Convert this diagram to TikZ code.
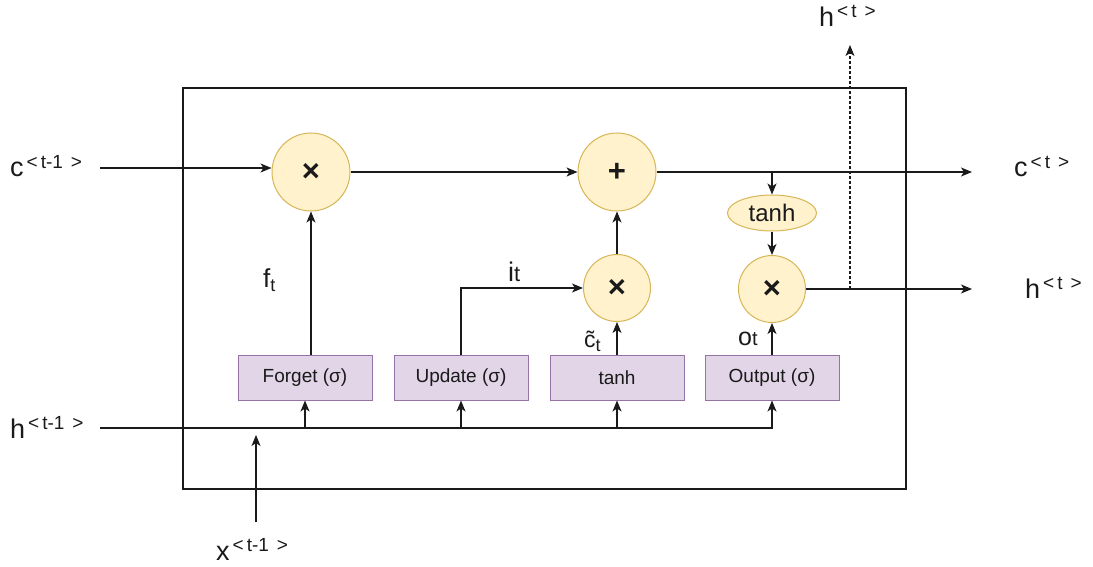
\documentclass[tikz,border=0pt]{standalone}
\usepackage{fontspec}
\setmainfont{Liberation Sans}
\usetikzlibrary{arrows.meta,shapes.geometric}
\definecolor{gatefill}{HTML}{FFF2CC}
\definecolor{gatedraw}{HTML}{D6B656}
\definecolor{boxfill}{HTML}{E1D5E7}
\definecolor{boxdraw}{HTML}{9673A6}
\definecolor{ink}{HTML}{1A1A1A}
\newcommand{\fs}[1]{\fontsize{#1}{#1}\selectfont}
\newcommand{\vlabel}[2]{{\fs{27}#1}\hspace{3pt}\raisebox{9pt}{\fs{19}<\hspace{3pt}#2\hspace{8pt}>}}
\begin{document}
\begin{tikzpicture}[x=1pt,y=-1pt,
  op/.style={circle,draw=gatedraw,fill=gatefill,line width=1pt,minimum size=78pt,inner sep=0pt,font=\fs{31}\bfseries,text=ink},
  ops/.style={op,minimum size=67pt},
  gatebox/.style={rectangle,draw=boxdraw,fill=boxfill,line width=1pt,minimum width=134pt,minimum height=45pt,inner sep=0pt,font=\fs{19},text=ink},
  flow/.style={draw=ink,line width=1.2pt,-{Stealth[length=11pt,width=9pt,inset=3pt]}},
  lbl/.style={inner sep=0pt,anchor=base west,text=ink}]
\useasboundingbox (0,0) rectangle (1093,567);
% cell frame
\node[draw=ink,line width=1.2pt,minimum width=723pt,minimum height=401pt,inner sep=0pt] (cell) at (544.5,288.5) {};
% operators
\node[op] (m1) at (311,172) {×};
\node[op] (add) at (617,172) {+};
\node[ops] (m2) at (617,288) {×};
\node[ops] (m3) at (772,289) {×};
\node[ellipse,draw=gatedraw,fill=gatefill,line width=1pt,minimum width=89pt,minimum height=36pt,inner sep=0pt,font=\fs{24},text=ink] (th) at (772,213) {tanh};
% gate boxes
\node[gatebox] (fg) at (305,377.5) {Forget (σ)};
\node[gatebox] (up) at (461,377.5) {Update (σ)};
\node[gatebox] (tb) at (617,377.5) {tanh};
\node[gatebox] (ob) at (772,377.5) {Output (σ)};
% external labels
\node[lbl] (cprev) at (10,177) {\vlabel{c}{t-1}};
\node[lbl] (hprev) at (10,438) {\vlabel{h}{t-1}};
\node[lbl] (xprev) at (216,560) {\vlabel{x}{t-1}};
\node[lbl] (cnext) at (1014,177) {\vlabel{c}{t}};
\node[lbl] (hnext) at (1025,298) {\vlabel{h}{t}};
\node[lbl] (hup) at (819,27) {\vlabel{h}{t}};
% inner labels
\node[lbl] (ft) at (263,287) {{\fs{26}f}\raisebox{-5pt}{\fs{18}t}};
\node[lbl] (it) at (508,281) {{\fs{27}i}{\fs{22}t}};
\node[lbl] (ct) at (584,347) {{\fs{23}\~c}\raisebox{-4pt}{\fs{18}t}};
\node[lbl] (ot) at (738,345) {{\fs{25}o}{\fs{20}t}};
% coordinates
\coordinate (cin) at (100,168);
\coordinate (cout) at (972,172);
\coordinate (hin) at (100,428);
\coordinate (hout) at (972,289);
\coordinate (tap) at (850,289);
\coordinate (htop) at (850,45);
\coordinate (xin) at (256,522);
\coordinate (xend) at (256,435);
% cell state path
\draw[flow] (cin) -- (cin -| m1.west);
\draw[flow] (m1.east) -- (add.west);
\draw[flow] (add.east) -- (cout);
\draw[flow] (th.north |- add.east) -- (th.north);
\draw[flow] (th.south) -- (m3.north);
\draw[flow] (m2.north) -- (add.south);
\draw[flow] (m3.east) -- (hout);
\draw[flow,dash pattern=on 3pt off 2pt] (tap) -- (htop);
% gates to operators
\draw[flow] (m1 |- fg.north) -- (m1.south);
\draw[flow] (up.north) -- (up.north |- m2.west) -- (m2.west);
\draw[flow] (tb.north) -- (m2.south);
\draw[flow] (ob.north) -- (m3.south);
% hidden state input
\draw[flow] (hin) -- (hin -| ob.south) -- (ob.south);
\draw[flow] (hin -| fg.south) -- (fg.south);
\draw[flow] (hin -| up.south) -- (up.south);
\draw[flow] (hin -| tb.south) -- (tb.south);
\draw[flow] (xin) -- (xend);
\end{tikzpicture}
\end{document}
